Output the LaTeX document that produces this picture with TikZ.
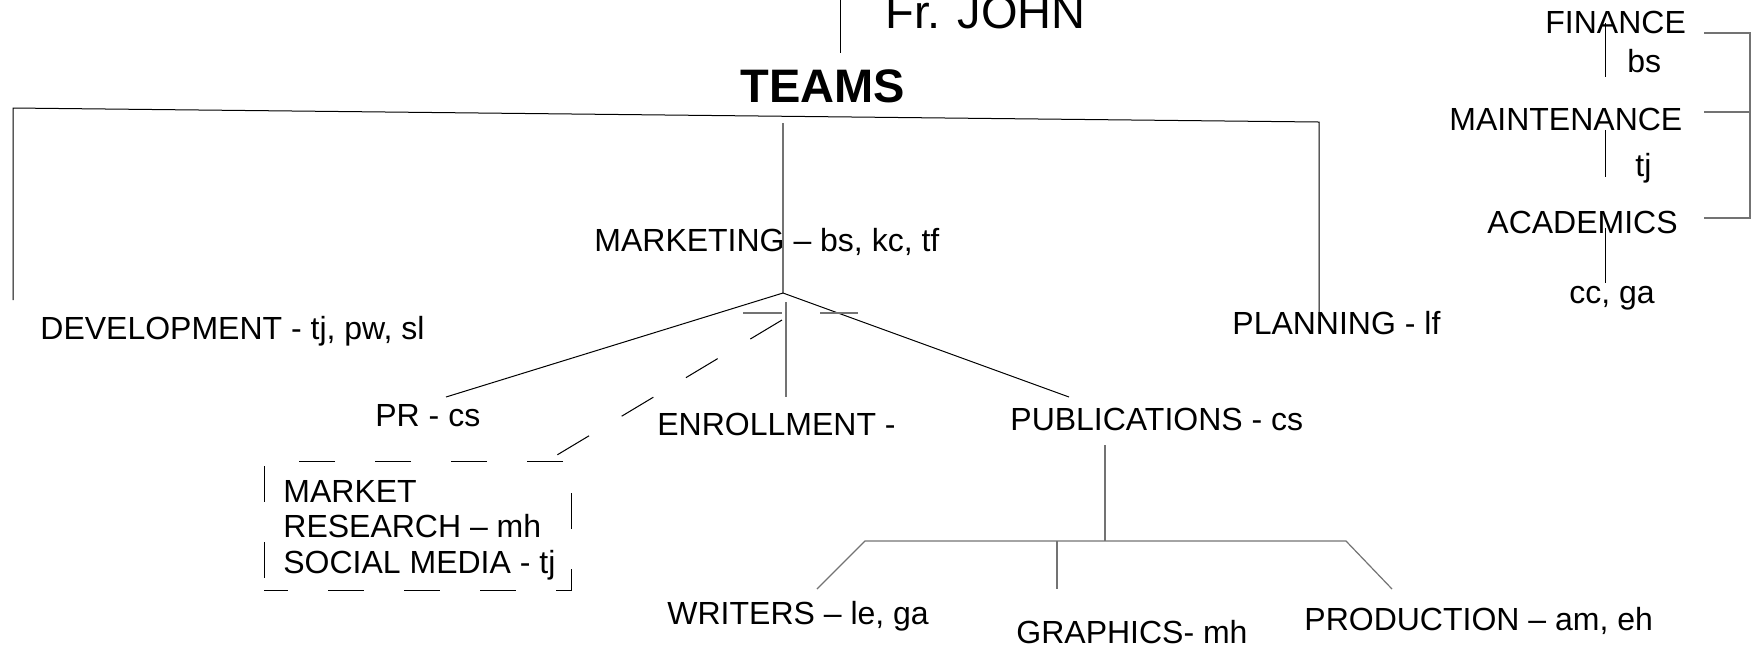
\documentclass[tikz,border=0pt]{standalone}
\usepackage{fontspec}
\setmainfont{Liberation Sans}
\begin{document}
\begin{tikzpicture}[x=0.5pt,y=-0.5pt]
	\tikzstyle{team}=[inner sep=0pt,anchor=base west,font=\fontsize{16}{17.75}\selectfont]
	\tikzstyle{head}=[inner sep=0pt,anchor=base west,font=\fontsize{23.5}{28}\selectfont]
	\tikzstyle{edge}=[draw,line width=0.5pt,black]
	\tikzstyle{gedge}=[draw,line width=0.6pt,black!55]
	\tikzstyle{dedge}=[draw,line width=0.5pt,black,dash pattern=on 18.5pt off 19pt]
	\useasboundingbox (0,0) rectangle (1752,645);
	\begin{scope}
		\node [head] (john) at (885,28) {Fr. JOHN};
		\node [head,font=\fontsize{23.5}{28}\selectfont\bfseries] (teams) at (740,102) {TEAMS};
		\node [team] (mkt) at (594,251) {MARKETING – bs, kc, tf};
		\node [team] (dev) at (40,339) {DEVELOPMENT - tj, pw, sl};
		\node [team] (plan) at (1232,334) {PLANNING - lf};
		\node [team] (pr) at (375,426) {PR - cs};
		\node [team] (enr) at (657,435) {ENROLLMENT -};
		\node [team] (pub) at (1010,430) {PUBLICATIONS - cs};
		\node [team] (mresa) at (283,502) {MARKET};
		\node [team] (mresb) at (283,537) {RESEARCH – mh};
		\node [team] (mresc) at (283,573) {SOCIAL MEDIA - tj};
		\node [draw,dash pattern=on 18pt off 20pt,dash phase=6pt,line width=0.5pt,inner sep=0pt,minimum width=153.5pt,minimum height=64.5pt] (mrbox) at (417.5,525.5) {};
		\node [team] (wri) at (667,624) {WRITERS – le, ga};
		\node [team] (gra) at (1016,643) {GRAPHICS- mh};
		\node [team] (pro) at (1304,630) {PRODUCTION – am, eh};
		\node [team] (fin) at (1545,33) {FINANCE};
		\node [team] (finm) at (1627,72) {bs};
		\node [team] (mai) at (1449,130) {MAINTENANCE};
		\node [team] (maim) at (1635,176) {tj};
		\node [team] (aca) at (1487,233) {ACADEMICS};
		\node [team] (acam) at (1569,303) {cc, ga};
	\end{scope}
	\begin{scope}
		\coordinate (johntop) at (840,0);
		\coordinate (johnfoot) at (840,53);
		\coordinate (barl) at (13,108);
		\coordinate (barr) at (1319,122);
		\coordinate (devtop) at (13,300);
		\coordinate (plantop) at (1319,332);
		\coordinate (mkttop) at (783,123);
		\coordinate (fan) at (783,293);
		\coordinate (prtop) at (446,397);
		\coordinate (pubtop) at (1069,397);
		\coordinate (enrtop) at (786,302);
		\coordinate (enrfoot) at (786,397);
		\coordinate (tickla) at (743,313);
		\coordinate (ticklb) at (782,313);
		\coordinate (tickra) at (820,313);
		\coordinate (tickrb) at (858,313);
		\coordinate (mrtop) at (782,320);
		\coordinate (mrfoot) at (552,458);
		\coordinate (pubfoot) at (1105,445);
		\coordinate (pubjoin) at (1105,541);
		\coordinate (barwl) at (865,541);
		\coordinate (barwr) at (1346,541);
		\coordinate (writop) at (817,589);
		\coordinate (grajoin) at (1057,541);
		\coordinate (gratop) at (1057,589);
		\coordinate (protop) at (1392,589);
		\coordinate (fina) at (1605,23);
		\coordinate (finb) at (1605,77);
		\coordinate (maia) at (1605,130);
		\coordinate (maib) at (1605,177);
		\coordinate (acaa) at (1605,228);
		\coordinate (acab) at (1605,283);
		\coordinate (finstub) at (1704,33);
		\coordinate (maistub) at (1704,112);
		\coordinate (acastub) at (1704,218);
		\coordinate (brtop) at (1750,33);
		\coordinate (brmid) at (1750,112);
		\coordinate (brbot) at (1750,218);
		\path[edge] (johntop) edge (johnfoot);
		\draw[edge] (devtop) -- (barl) -- (barr) -- (plantop);
		\path[gedge] (mkttop) edge (fan);
		\path[edge] (fan) edge (prtop);
		\path[edge] (fan) edge (pubtop);
		\path[gedge] (enrtop) edge (enrfoot);
		\path[gedge] (tickla) edge (ticklb);
		\path[gedge] (tickra) edge (tickrb);
		\path[dedge] (mrtop) edge (mrfoot);
		\path[gedge] (pubfoot) edge (pubjoin);
		\draw[gedge] (writop) -- (barwl) -- (barwr) -- (protop);
		\path[gedge] (grajoin) edge (gratop);
		\path[edge] (fina) edge (finb);
		\path[edge] (maia) edge (maib);
		\path[edge] (acaa) edge (acab);
		\draw[gedge] (finstub) -- (brtop) -- (brbot) -- (acastub);
		\path[gedge] (maistub) edge (brmid);
	\end{scope}
\end{tikzpicture}
\end{document}
